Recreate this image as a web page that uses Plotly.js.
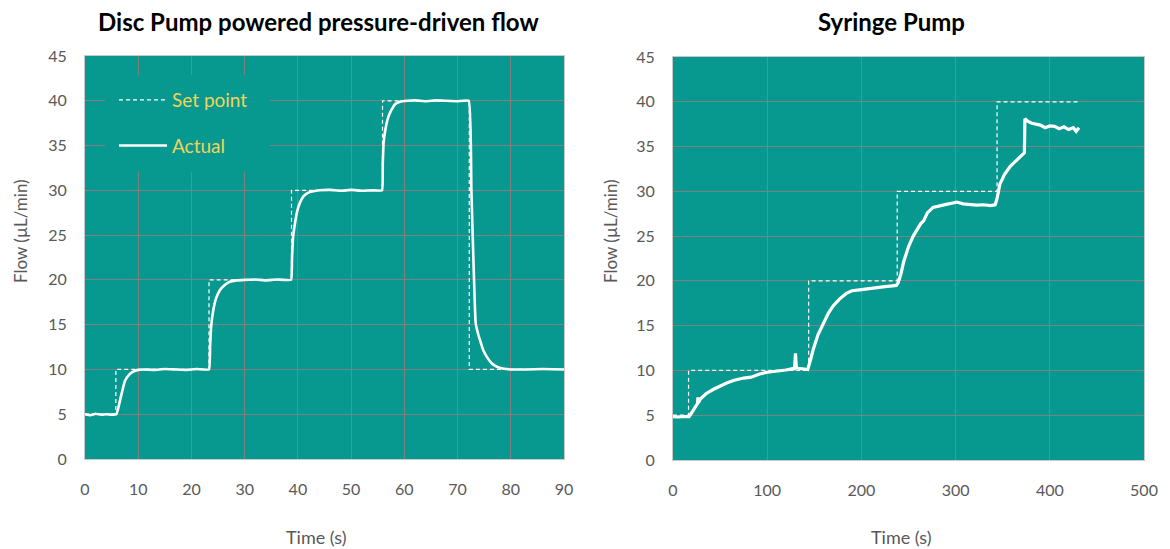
<!DOCTYPE html>
<html><head><meta charset="utf-8">
<script src="https://cdn.plot.ly/plotly-3.0.1.min.js"></script>
<style>body{margin:0;background:#fff}#c{width:1170px;height:549px}</style>
</head><body><div id="c"></div>
<script>
// ---- Left: Disc Pump ----
const discSetT = [0, 5.8, 5.8, 23.3, 23.3, 38.8, 38.8, 55.9, 55.9, 72.2, 72.2, 90];
const discSetF = [5, 5, 10, 10, 20, 20, 30, 30, 40, 40, 10, 10];
const discActT = [0, 1, 2, 3, 4, 5, 5.9, 6.3, 6.6, 7.0, 7.5, 8.0, 8.5, 9.2, 10.0, 11, 13, 15, 17, 19, 21, 23.3, 23.5, 23.7, 24.1, 24.6, 25.4, 26.2, 27.2, 28.5, 30, 32, 34, 36, 38.7, 38.9, 39.1, 39.5, 39.8, 40.3, 41.0, 41.8, 42.9, 44, 46, 48, 50, 52, 54, 55.8, 55.95, 56.1, 56.5, 57.0, 57.6, 58.3, 59.2, 60.5, 62, 64, 66, 68, 70, 72.1, 72.6, 73.4, 73.8, 74.2, 74.8, 75.5, 76.4, 77.4, 78.5, 80, 83, 86, 90];
const discActF = [5.0, 4.9, 5.05, 4.95, 5.0, 4.95, 5.0, 5.8, 6.6, 7.6, 8.7, 9.2, 9.55, 9.8, 9.95, 10.0, 9.95, 10.05, 10.0, 9.95, 10.05, 10.0, 12.5, 14.8, 16.6, 17.9, 18.9, 19.4, 19.8, 19.95, 20.0, 20.05, 19.95, 20.05, 20.0, 22.5, 24.8, 26.5, 27.5, 28.5, 29.3, 29.7, 29.9, 30.0, 30.05, 29.95, 30.05, 29.95, 30.0, 30.0, 33.0, 35.3, 37.0, 38.2, 39.0, 39.65, 39.9, 40.0, 40.05, 39.95, 40.05, 40.0, 39.95, 40.0, 30.0, 15.2, 14.1, 13.3, 12.2, 11.4, 10.7, 10.3, 10.1, 10.0, 10.0, 10.05, 10.0];

// ---- Right: Syringe Pump ----
const syrSetT = [0, 16.5, 16.5, 144, 144, 238, 238, 344, 344, 432];
const syrSetF = [5, 5, 10, 10, 20, 20, 30, 30, 40, 40];
const syrActT = [0, 5, 10, 17, 20, 24, 26, 26.5, 27, 29, 35, 43, 50, 57, 65, 75, 83, 92, 100, 105, 110, 115, 120, 127, 129, 130, 131, 133, 138, 143, 146, 149, 154, 160, 165, 170, 177, 184, 190, 198, 205, 216, 225, 233, 237, 239, 242, 245, 250, 255, 260, 263, 266, 270, 276, 283, 290, 297, 301, 308, 315, 322, 330, 337, 342, 344, 347, 352, 358, 364, 368, 373, 373.6, 377, 381, 385, 390, 395, 400, 405, 410, 415, 420, 425, 428, 431];
const syrActF = [4.85, 4.8, 4.85, 4.85, 5.3, 6.0, 6.3, 7.0, 6.4, 6.8, 7.4, 7.9, 8.3, 8.6, 8.9, 9.15, 9.25, 9.6, 9.8, 9.85, 9.95, 9.95, 10.05, 10.2, 10.2, 11.9, 10.3, 10.25, 10.15, 10.1, 11.2, 12.4, 14.0, 15.4, 16.4, 17.2, 18.0, 18.6, 18.9, 19.0, 19.1, 19.3, 19.35, 19.45, 19.5, 19.8, 20.8, 22.2, 23.8, 25.0, 25.8, 26.4, 26.7, 27.6, 28.2, 28.4, 28.55, 28.7, 28.8, 28.6, 28.55, 28.45, 28.5, 28.4, 28.5, 29.2, 30.8, 31.9, 32.8, 33.4, 33.8, 34.3, 38.1, 37.8, 37.6, 37.5, 37.4, 37.1, 37.3, 37.25, 37.0, 37.2, 36.9, 37.1, 36.7, 37.1];

const yTicks = [0, 5, 10, 15, 20, 25, 30, 35, 40, 45];
const leftXTicks = [0, 10, 20, 30, 40, 50, 60, 70, 80, 90];
const rightXTicks = [0, 100, 200, 300, 400, 500];
const titles = ['Disc Pump powered pressure-driven flow', 'Syringe Pump'];
const xTitle = 'Time (s)';
const yTitle = 'Flow (µL/min)';

const TEAL = '#079890';
const GRID = '#808080';
const FONT = 'Lato, "Open Sans", sans-serif';

const traces = [
  {x: discSetT, y: discSetF, mode: 'lines', name: 'Set point', xaxis: 'x', yaxis: 'y',
   line: {color: '#ffffff', width: 1.2, dash: '4px,3px'}, legendgroup: 'a'},
  {x: discActT, y: discActF, mode: 'lines', name: 'Actual', xaxis: 'x', yaxis: 'y',
   line: {color: '#ffffff', width: 2.6, shape: 'spline', smoothing: 0.3}, legendgroup: 'b'},
  {x: syrSetT, y: syrSetF, mode: 'lines', name: 'Set point', xaxis: 'x2', yaxis: 'y2',
   line: {color: '#ffffff', width: 1.2, dash: '4px,3px'}, showlegend: false},
  {x: syrActT, y: syrActF, mode: 'lines', name: 'Actual', xaxis: 'x2', yaxis: 'y2',
   line: {color: '#ffffff', width: 3.2}, showlegend: false}
];

const axBase = {
  showgrid: true, gridcolor: GRID, gridwidth: 1, zeroline: false,
  showline: true, mirror: true, linecolor: '#c8c8c8', linewidth: 1,
  ticks: 'outside', ticklen: 16, tickcolor: 'rgba(0,0,0,0)',
  tickfont: {family: FONT, size: 16, color: '#595959'}, fixedrange: true
};
const yBase = Object.assign({}, axBase, {range: [0, 45], tickvals: yTicks, ticklen: 14});

const layout = {
  width: 1170, height: 549,
  margin: {l: 0, r: 0, t: 0, b: 0},
  paper_bgcolor: '#ffffff', plot_bgcolor: TEAL,
  showlegend: true,
  legend: {x: 114/1170, y: (549-81)/549, xanchor: 'left', yanchor: 'top', bgcolor: 'rgba(0,0,0,0)',
           font: {family: FONT, size: 19, color: '#f0d45a'}, traceorder: 'grouped', tracegroupgap: 18,
           itemwidth: 48},
  xaxis: Object.assign({}, axBase, {domain: [85/1170, 564/1170], range: [0, 90], tickvals: leftXTicks, anchor: 'y'}),
  yaxis: Object.assign({}, yBase, {domain: [90/549, 493/549], anchor: 'x'}),
  xaxis2: Object.assign({}, axBase, {domain: [673/1170, 1144/1170], range: [0, 500], tickvals: rightXTicks, anchor: 'y2'}),
  yaxis2: Object.assign({}, yBase, {domain: [89/549, 492/549], anchor: 'x2'}),
  shapes: [
    {type: 'rect', xref: 'paper', yref: 'paper', x0: 105/1170, x1: 270/1170, y0: (549-172)/549, y1: (549-75)/549,
     fillcolor: TEAL, line: {width: 0}, layer: 'above'}
  ],
  annotations: [
    {text: '<b>' + titles[0] + '</b>', xref: 'paper', yref: 'paper', x: 319/1170, y: (549-22)/549, showarrow: false,
     font: {family: FONT, size: 24, color: '#000'}, xanchor: 'center', yanchor: 'middle'},
    {text: '<b>' + titles[1] + '</b>', xref: 'paper', yref: 'paper', x: 891/1170, y: (549-22)/549, showarrow: false,
     font: {family: FONT, size: 24, color: '#000'}, xanchor: 'center', yanchor: 'middle'},
    {text: xTitle, xref: 'paper', yref: 'paper', x: 316/1170, y: (549-537)/549, showarrow: false,
     font: {family: FONT, size: 18, color: '#595959'}, xanchor: 'center', yanchor: 'middle'},
    {text: xTitle, xref: 'paper', yref: 'paper', x: 901/1170, y: (549-537)/549, showarrow: false,
     font: {family: FONT, size: 18, color: '#595959'}, xanchor: 'center', yanchor: 'middle'},
    {text: yTitle, xref: 'paper', yref: 'paper', x: 20/1170, y: (549-231)/549, showarrow: false, textangle: -90,
     font: {family: FONT, size: 17, color: '#595959'}, xanchor: 'center', yanchor: 'middle'},
    {text: yTitle, xref: 'paper', yref: 'paper', x: 610/1170, y: (549-231)/549, showarrow: false, textangle: -90,
     font: {family: FONT, size: 17, color: '#595959'}, xanchor: 'center', yanchor: 'middle'}
  ]
};

Plotly.newPlot('c', traces, layout, {staticPlot: true, displayModeBar: false});
</script>
</body></html>
